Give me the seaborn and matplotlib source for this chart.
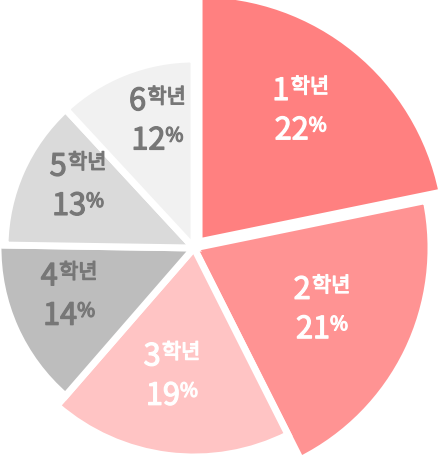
import matplotlib
matplotlib.use('Agg')
import matplotlib.pyplot as plt
import matplotlib.patheffects as pe
import seaborn as sns
import numpy as np
from matplotlib.offsetbox import TextArea, HPacker, VPacker, AnnotationBbox

# data
grades = ['1', '2', '3', '4', '5', '6']
shares = [22, 21, 19, 14, 13, 12]
grade_suffix = '학년'

sns.set_theme(style='white')
plt.rcParams['font.family'] = ['Noto Sans CJK KR', 'DejaVu Sans']

# styling
colors = ['#ff8080', '#ff9393', '#ffc4c4', '#bdbdbd', '#dadada', '#f1f1f1']
text_colors = ['white', 'white', 'white', '#777777', '#777777', '#777777']
radii = [248, 237, 209, 196, 189, 189]
label_dist = [0.68, 0.60, 0.62, 0.67, 0.73, 0.72]
label_nudge = [(-5, 0), (0, 0), (-6, 0), (-5, 5), (10, 5), (13, 0)]

W, H = 444, 458
fig = plt.figure(figsize=(W / 100, H / 100), dpi=100)
ax = fig.add_axes([0, 0, 1, 1])

cx, cy = 194, H - 248
# explode is in data units here (pixels)
wedges, _ = ax.pie(shares, colors=colors, startangle=90, counterclock=False,
                   center=(cx, cy), radius=radii[0],
                   explode=[8, 0, 0, 0, 0, 0],
                   wedgeprops=dict(edgecolor='white', linewidth=5))

for i, w in enumerate(wedges):
    w.set_radius(radii[i])
    mid = np.deg2rad((w.theta1 + w.theta2) / 2)
    wx, wy = w.center
    d = label_dist[i] * radii[i]
    x = wx + d * np.cos(mid) + label_nudge[i][0]
    y = wy + d * np.sin(mid) + label_nudge[i][1]
    c = text_colors[i]
    thick = [pe.withStroke(linewidth=0.9, foreground=c)]
    big = dict(fontsize=22, color=c, path_effects=thick)
    small = dict(fontsize=15, color=c, path_effects=thick)
    pct = dict(fontsize=14, color=c, path_effects=thick)
    line1 = HPacker(children=[TextArea(grades[i], textprops=big),
                              TextArea(grade_suffix, textprops=small)],
                    align='top', pad=0, sep=1)
    line2 = HPacker(children=[TextArea(str(shares[i]), textprops=big),
                              TextArea('%', textprops=pct)],
                    align='top', pad=0, sep=0)
    block = VPacker(children=[line1, line2], align='center', pad=0, sep=6)
    ab = AnnotationBbox(block, (x, y), frameon=False, box_alignment=(0.5, 0.5))
    ax.add_artist(ab)

ax.set_xlim(0, W)
ax.set_ylim(0, H)
ax.set_aspect('equal')
ax.axis('off')

fig.savefig('out.png', dpi=100)
